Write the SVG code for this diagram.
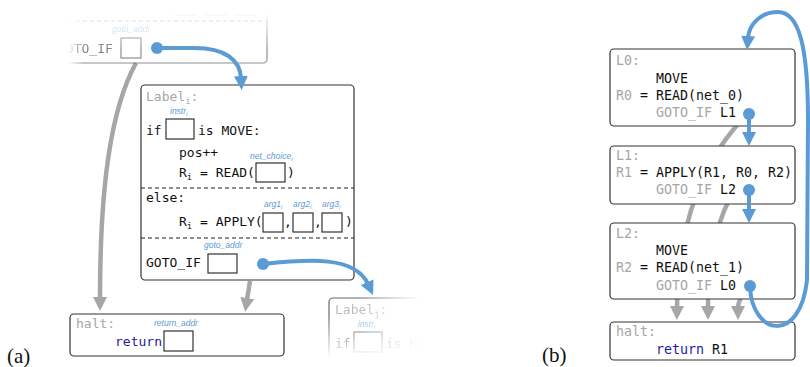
<svg xmlns="http://www.w3.org/2000/svg" width="810" height="367" viewBox="0 0 810 367">
<style>
.code{font-family:"DejaVu Sans Mono","Liberation Mono",monospace;font-size:13px;fill:#111}
.codeb{font-family:"DejaVu Sans Mono","Liberation Mono",monospace;font-size:13.3px;fill:#111}
.lbl{fill:#a6a6a6}
.kw{fill:#1c1c9c}
.sub{font-size:9px}
.ann{font-family:"Liberation Sans",Arial,sans-serif;font-style:italic;font-size:8.5px;fill:#5b9bd5}
.box{fill:#fff;stroke:#333;stroke-width:1.2}
.slot{fill:#fff;stroke:#333;stroke-width:1.2}
.dash{stroke:#222;stroke-width:1.2;stroke-dasharray:4 3}
.blue{fill:none;stroke:#5b9bd5;stroke-width:4}
.gray{fill:none;stroke:#a6a6a6;stroke-width:4.5}
.dot{fill:#5b9bd5}
.cap{font-family:"Liberation Serif","Times New Roman",serif;font-size:21px;fill:#111}
</style>
<defs>
<marker id="hb" markerUnits="userSpaceOnUse" markerWidth="14" markerHeight="14" viewBox="0 0 14 14" refX="2" refY="7" orient="auto"><path d="M0,0 L14,7 L0,14 z" fill="#5b9bd5"/></marker>
<marker id="hg" markerUnits="userSpaceOnUse" markerWidth="14" markerHeight="14" viewBox="0 0 14 14" refX="2" refY="7" orient="auto"><path d="M0,0 L14,7 L0,14 z" fill="#a6a6a6"/></marker>
<linearGradient id="gTopH" gradientUnits="userSpaceOnUse" x1="68" y1="0" x2="84" y2="0"><stop offset="0" stop-color="#000"/><stop offset="1" stop-color="#8c8c8c"/></linearGradient>
<linearGradient id="gTopV" gradientUnits="userSpaceOnUse" x1="0" y1="12" x2="0" y2="50"><stop offset="0" stop-color="#000"/><stop offset="1" stop-color="#fff"/></linearGradient>
<linearGradient id="gJH" gradientUnits="userSpaceOnUse" x1="360" y1="0" x2="420" y2="0"><stop offset="0" stop-color="#bbb"/><stop offset="1" stop-color="#000"/></linearGradient>
<linearGradient id="gJV" gradientUnits="userSpaceOnUse" x1="0" y1="316" x2="0" y2="358"><stop offset="0" stop-color="#fff"/><stop offset="1" stop-color="#000"/></linearGradient>
<mask id="mTopH" maskUnits="userSpaceOnUse" x="0" y="-20" width="300" height="100"><rect x="0" y="-20" width="300" height="100" fill="url(#gTopH)"/></mask>
<mask id="mTopV" maskUnits="userSpaceOnUse" x="0" y="-20" width="300" height="100"><rect x="0" y="-20" width="300" height="100" fill="url(#gTopV)"/></mask>
<mask id="mJH" maskUnits="userSpaceOnUse" x="300" y="280" width="200" height="90"><rect x="300" y="280" width="200" height="90" fill="url(#gJH)"/></mask>
<mask id="mJV" maskUnits="userSpaceOnUse" x="300" y="280" width="200" height="90"><rect x="300" y="280" width="200" height="90" fill="url(#gJV)"/></mask>
</defs>

<g id="connectors-back">
<path class="gray" d="M136 63 C110 110 100 190 100 299" marker-end="url(#hg)"/>
<path class="gray" d="M250 281 L247 300" marker-end="url(#hg)"/>
<path class="gray" d="M740 122 C705 160 678 220 677 308" marker-end="url(#hg)"/>
<path class="gray" d="M730 198 C716 225 708 260 708 308" marker-end="url(#hg)"/>
<path class="gray" d="M742 295 C740 300 738 302 738 308" marker-end="url(#hg)"/>
</g>

<g id="node-prev" mask="url(#mTopV)">
<g mask="url(#mTopH)">
<rect class="box" x="20" y="-120" width="247" height="183" rx="4"/>
<line class="dash" x1="20" y1="21" x2="267" y2="21"/>
<rect class="slot" x="176" y="-6" width="20" height="21"/>
<rect class="slot" x="206" y="-6" width="20" height="21"/>
<rect class="slot" x="235" y="-6" width="20" height="21"/>
<text class="ann" x="112" y="32">goto_addr</text>
<text class="code" x="58" y="53">GOTO_IF</text>
<rect class="slot" x="121" y="38" width="20" height="20"/>
</g>
</g>

<g id="node-label-i">
<rect class="box" x="141" y="85" width="213" height="195" rx="4"/>
<text class="code lbl" x="146" y="101">Label<tspan class="sub" dy="3">i</tspan><tspan dy="-3">:</tspan></text>
<text class="ann" x="170" y="114">instr<tspan font-size="6" dy="2">i</tspan></text>
<text class="code" x="146" y="135">if</text>
<rect class="slot" x="166" y="119" width="28" height="20"/>
<text class="code" x="198" y="135">is MOVE:</text>
<text class="code" x="179" y="157">pos++</text>
<text class="ann" x="250" y="159">net_choice<tspan font-size="6" dy="2">i</tspan></text>
<text class="code" x="179" y="177">R<tspan class="sub" dy="3">i</tspan><tspan dy="-3"> = READ(</tspan></text>
<rect class="slot" x="256" y="163" width="29" height="19"/>
<text class="code" x="287" y="177">)</text>
<line class="dash" x1="141" y1="188" x2="354" y2="188"/>
<text class="code" x="146" y="202">else:</text>
<text class="ann" x="264" y="207">arg1<tspan font-size="6" dy="2">i</tspan></text>
<text class="ann" x="293" y="207">arg2<tspan font-size="6" dy="2">i</tspan></text>
<text class="ann" x="322" y="207">arg3<tspan font-size="6" dy="2">i</tspan></text>
<text class="code" x="179" y="226">R<tspan class="sub" dy="3">i</tspan><tspan dy="-3"> = APPLY(</tspan></text>
<rect class="slot" x="263" y="213" width="20" height="19"/>
<text class="code" x="284" y="226">,</text>
<rect class="slot" x="293" y="213" width="20" height="19"/>
<text class="code" x="314" y="226">,</text>
<rect class="slot" x="322" y="213" width="20" height="19"/>
<text class="code" x="345" y="226">)</text>
<line class="dash" x1="141" y1="238" x2="354" y2="238"/>
<text class="ann" x="204" y="248">goto_addr</text>
<text class="code" x="146" y="267">GOTO_IF</text>
<rect class="slot" x="208" y="254" width="29" height="19"/>
</g>

<g id="node-halt-a">
<rect class="box" x="70" y="314" width="214" height="42" rx="4"/>
<text class="code lbl" x="76" y="328">halt:</text>
<text class="ann" x="154" y="326">return_addr</text>
<text class="code kw" x="115" y="346">return</text>
<rect class="slot" x="164" y="331" width="29" height="20"/>
</g>

<g id="node-label-j" mask="url(#mJV)">
<g mask="url(#mJH)">
<rect class="box" x="329" y="298" width="215" height="195" rx="4"/>
<text class="code lbl" x="335" y="314">Label<tspan class="sub" dy="3">j</tspan><tspan dy="-3">:</tspan></text>
<text class="ann" x="358" y="327">instr<tspan font-size="6" dy="2">j</tspan></text>
<text class="code" x="335" y="348">if</text>
<rect class="slot" x="354" y="332" width="28" height="20"/>
<text class="code" x="386" y="348">is MOVE:</text>
</g>
</g>

<g id="node-L0">
<rect class="box" x="610" y="49" width="185" height="77" rx="4"/>
<text class="codeb lbl" x="616" y="65">L0:</text>
<text class="codeb" x="656" y="83">MOVE</text>
<text class="codeb" x="616" y="100"><tspan class="lbl">R0</tspan> = READ(net_0)</text>
<text class="codeb" x="656" y="117"><tspan class="lbl">GOTO_IF</tspan> L1</text>
</g>
<g id="node-L1">
<rect class="box" x="610" y="146" width="185" height="58" rx="4"/>
<text class="codeb lbl" x="616" y="160">L1:</text>
<text class="codeb" x="616" y="177"><tspan class="lbl">R1</tspan> = APPLY(R1, R0, R2)</text>
<text class="codeb" x="656" y="194"><tspan class="lbl">GOTO_IF</tspan> L2</text>
</g>
<g id="node-L2">
<rect class="box" x="610" y="223" width="185" height="76" rx="4"/>
<text class="codeb lbl" x="616" y="238">L2:</text>
<text class="codeb" x="656" y="255">MOVE</text>
<text class="codeb" x="616" y="272"><tspan class="lbl">R2</tspan> = READ(net_1)</text>
<text class="codeb" x="656" y="290"><tspan class="lbl">GOTO_IF</tspan> L0</text>
</g>
<g id="node-halt-b">
<rect class="box" x="610" y="322" width="185" height="38" rx="4"/>
<text class="codeb lbl" x="616" y="336">halt:</text>
<text class="codeb" x="656" y="354"><tspan class="kw">return</tspan> R1</text>
</g>

<g id="connectors-front">
<path class="blue" d="M157 48 L195 48 C225 48 240 60 241 78" marker-end="url(#hb)"/>
<circle class="dot" cx="157" cy="48" r="6"/>
<path class="blue" d="M263 264 C310 259 355 256 368 284" marker-end="url(#hb)"/>
<circle class="dot" cx="263" cy="264" r="6"/>
<path class="blue" d="M749 114 L749 134" marker-end="url(#hb)"/>
<circle class="dot" cx="749" cy="114" r="6"/>
<path class="blue" d="M749 190 L749 211" marker-end="url(#hb)"/>
<circle class="dot" cx="749" cy="190" r="6"/>
<path class="blue" d="M750 287 C752 335 800 345 807 280 L808 120 C808 50 800 12 778 12 C760 12 749 25 748 38" marker-end="url(#hb)"/>
<circle class="dot" cx="750" cy="286" r="6"/>
</g>

<text class="cap" x="7" y="363">(a)</text>
<text class="cap" x="542" y="362">(b)</text>
</svg>
